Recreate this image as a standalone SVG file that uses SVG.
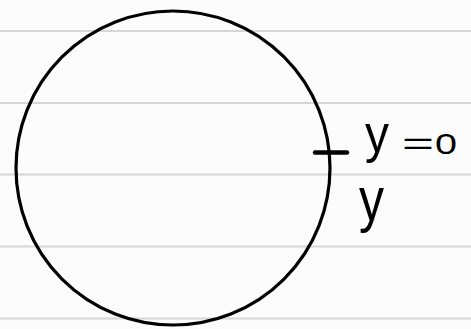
<svg xmlns="http://www.w3.org/2000/svg" width="471" height="329" viewBox="0 0 471 329">
<style>
.rule{stroke:#d6d6d6;stroke-width:2}
.ink{fill:none;stroke:#000;stroke-width:3.2;stroke-linecap:round}
.tick{fill:none;stroke:#000;stroke-width:4.5;stroke-linecap:round}
.hand{font-family:"Liberation Sans","DejaVu Sans",sans-serif;fill:#000}
</style>
<rect width="471" height="329" fill="#fcfcfc"/>
<g id="ruled-lines">
<line class="rule" x1="0" y1="31" x2="471" y2="31"/>
<line class="rule" x1="0" y1="103" x2="471" y2="103"/>
<line class="rule" x1="0" y1="174.5" x2="471" y2="174.5"/>
<line class="rule" x1="0" y1="246.5" x2="471" y2="246.5"/>
<line class="rule" x1="0" y1="318.5" x2="471" y2="318.5"/>
</g>
<g id="circle">
<circle class="ink" cx="173" cy="168" r="157"/>
</g>
<g id="tick">
<line class="tick" x1="315" y1="152.5" x2="347" y2="152.5"/>
</g>
<g id="label-y0">
<text class="hand" x="365" y="152" font-size="54" textLength="24" lengthAdjust="spacingAndGlyphs">y</text>
<text class="hand" x="402" y="154" font-size="32" textLength="32" lengthAdjust="spacingAndGlyphs">=</text>
<text class="hand" x="435" y="154" font-size="30" textLength="22" lengthAdjust="spacingAndGlyphs">0</text>
</g>
<g id="label-y">
<text class="hand" x="359" y="220" font-size="62" textLength="25" lengthAdjust="spacingAndGlyphs">y</text>
</g>
</svg>
